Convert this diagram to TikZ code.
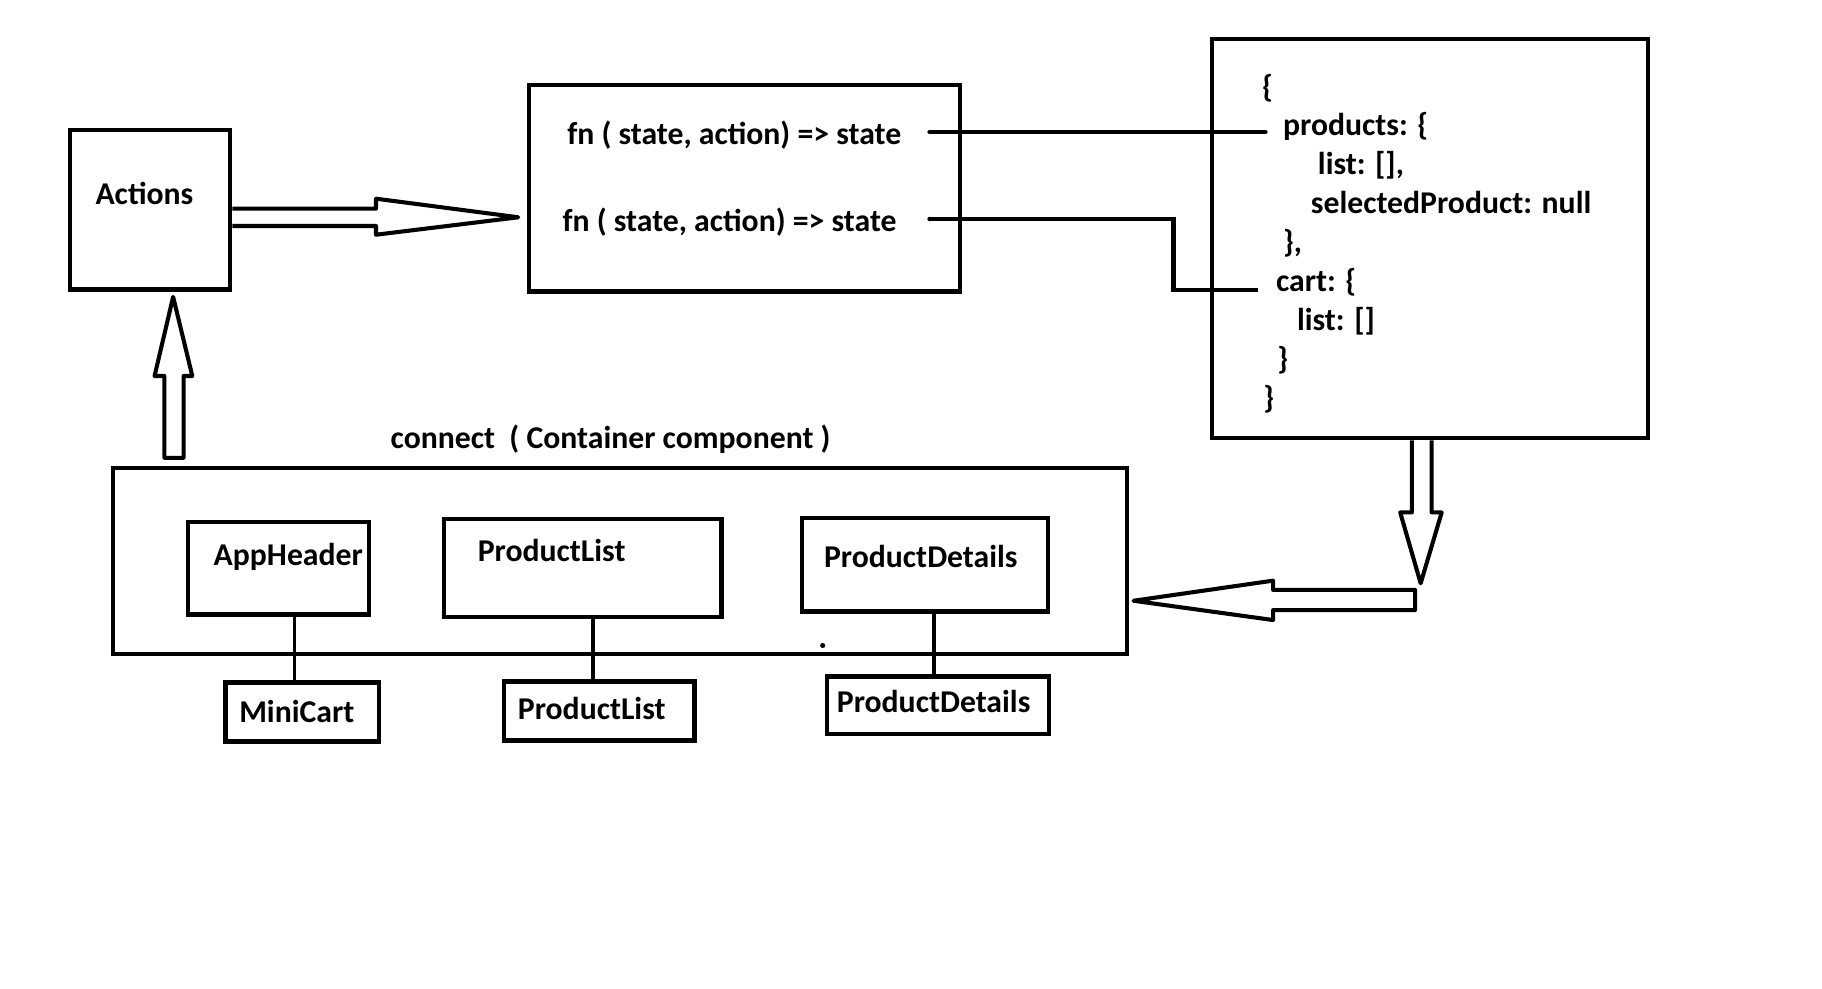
\documentclass[tikz,border=0pt]{standalone}
\usepackage{fontspec}
\setmainfont{Carlito}
\usetikzlibrary{calc}
\begin{document}
\begin{tikzpicture}[x=1pt,y=-1pt,
  box/.style={draw,line width=3.8pt,rectangle,inner sep=0pt},
  txt/.style={font=\fontsize{27.3}{33}\selectfont\bfseries,inner sep=0pt,anchor=base west},
  conn/.style={line width=3.9pt,line cap=round},
  thinconn/.style={line width=2.9pt},
  barrow/.style={line width=3.5pt,line join=round,fill=white}]
\fill[white] (0,0) rectangle (1568,850.3);
\useasboundingbox (0,0) rectangle (1568,850.3);

% boxes
\node[box,minimum width=138pt,minimum height=137pt] (actions) at (129,180.5) {};
\node[box,minimum width=371pt,minimum height=178pt] (reducer) at (640.5,162) {};
\node[box,minimum width=375pt,minimum height=343.5pt] (state) at (1230.5,205.25) {};
\node[box,minimum width=873pt,minimum height=160pt] (container) at (533.5,483) {};
\node[box,minimum width=155.8pt,minimum height=80pt] (appheader) at (239.7,489) {};
\node[box,minimum width=239pt,minimum height=84.4pt] (plist) at (501.5,488.8) {};
\node[box,minimum width=212pt,minimum height=80.6pt] (pdetails) at (796,486.1) {};
\node[box,minimum width=132pt,minimum height=50.5pt] (minicart) at (260,612.75) {};
\node[box,minimum width=164pt,minimum height=50.8pt] (plist2) at (515.5,612) {};
\node[box,minimum width=191pt,minimum height=49.4pt] (pdetails2) at (807.25,607) {};

% texts
\node[txt] (actionsT) at (82,176) {Actions};
\node[txt] (f1) at (488,124) {fn ( state, action) => state};
\node[txt] (f2) at (484,199) {fn ( state, action) => state};
\node[txt] (s1) at (1086,83.5) {\{};
\node[txt] (s2) at (1104,117) {products: \{};
\node[txt] (s3) at (1134,150.5) {list: [],};
\node[txt] (s4) at (1128,184) {selectedProduct: null};
\node[txt] (s5) at (1104,217.5) {\},};
\node[txt] (s6) at (1098,251) {cart: \{};
\node[txt] (s7) at (1116,284.5) {list: []};
\node[txt] (s8) at (1099,318) {\}};
\node[txt] (s9) at (1087,351.5) {\}};
\node[txt] (connectT) at (336,386) {connect\ \ ( Container component )};
\node[txt] (appheaderT) at (183.7,487) {AppHeader};
\node[txt] (plistT) at (411,483.5) {ProductList};
\node[txt] (pdetailsT) at (709,488) {ProductDetails};
\node[txt] (minicartT) at (205.7,622) {MiniCart};
\node[txt] (plist2T) at (445.5,619.5) {ProductList};
\node[txt] (pdetails2T) at (720,613.5) {ProductDetails};

% stray dot
\fill (708,555.5) circle (2.2);

% connectors reducer -> state
\coordinate (c1a) at (800,113.6);
\coordinate (c1b) at (1089,113.6);
\coordinate (c2a) at (800,188.5);
\coordinate (c2k) at (1010,188.5);
\coordinate (c2b) at (1082.6,249.6);
\draw[conn] (c1a) -- (c1b);
\draw[conn,line cap=butt] (c2a) -- (c2k) |- (c2b);
\fill (c2a) circle (1.95);

% inner connectors
\draw[thinconn] (253.5,0 |- appheader.south) -- (253.5,0 |- minicart.north);
\draw[thinconn] (510.3,0 |- plist.south) -- (510.3,0 |- plist2.north);
\draw[thinconn] (803.8,0 |- pdetails.south) -- (803.8,0 |- pdetails2.north);

% block arrows
\coordinate (tipR) at (446,187);
\draw[barrow] (actions.east |- 0,179.5) -- (323.6,179.5) -- (323.6,171) -- (tipR)
  -- (323.6,202) -- (323.6,194.5) -- (actions.east |- 0,194.5);
\coordinate (tipU) at (149,255.5);
\draw[barrow] (141.5,394) -- (141.5,323.6) -- (133,323.6) -- (tipU) -- (165.5,323.6)
  -- (158,323.6) -- (158,394) -- cycle;
\coordinate (tipD) at (1222.6,502);
\draw[barrow] (1215,0 |- state.south) -- (1215,441) -- (1205,441) -- (tipD)
  -- (1240.7,441) -- (1232,441) -- (1232,0 |- state.south);
\coordinate (tipL) at (975.5,517);
\draw[barrow] (1217.8,507.7) -- (1095.6,507.7) -- (1095.6,499.7) -- (tipL)
  -- (1095.6,533.6) -- (1095.6,525) -- (1217.8,525) -- cycle;
\end{tikzpicture}
\end{document}
